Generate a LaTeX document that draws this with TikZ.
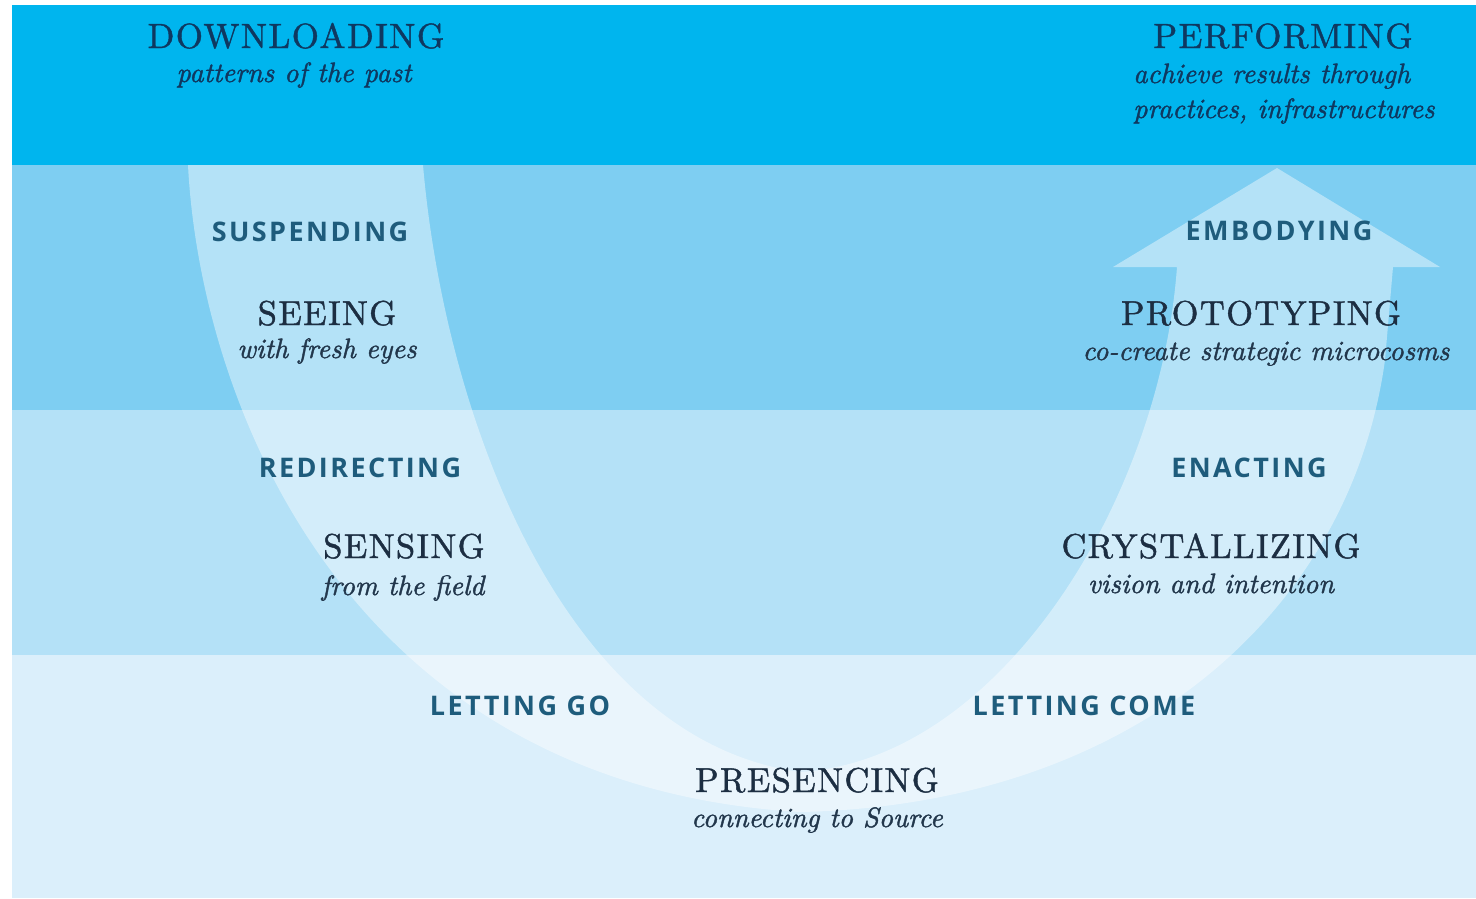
\documentclass[tikz,border=0pt]{standalone}
\usepackage{fontspec}
\newfontfamily\labfont{Open Sans}[LetterSpace=9]
\newfontfamily\headfont{lmroman10-regular.otf}[FakeBold=1.2, LetterSpace=4]
\newfontfamily\subfont{lmroman10-italic.otf}[FakeBold=1.4]
\definecolor{bandA}{HTML}{00B5EE}
\definecolor{bandB}{HTML}{7ECEF2}
\definecolor{bandC}{HTML}{B4E1F7}
\definecolor{bandD}{HTML}{DBEFFB}
\definecolor{headc}{HTML}{1C2E42}
\definecolor{topc}{HTML}{0F3860}
\definecolor{subc}{HTML}{22374C}
\definecolor{actc}{HTML}{1E5C7C}
\tikzset{
  stagename/.style={anchor=base, inner sep=0pt, text=headc, font=\headfont\fontsize{34.5}{40}\selectfont},
  topname/.style={anchor=base, inner sep=0pt, text=topc, font=\headfont\fontsize{35}{40}\selectfont},
  subtext/.style={anchor=base, inner sep=0pt, text=subc, font=\subfont\fontsize{28}{32}\selectfont},
  toptext/.style={anchor=base west, inner sep=0pt, text=topc, font=\subfont\fontsize{28}{32}\selectfont},
  actlabel/.style={anchor=base, inner sep=0pt, text=actc, font=\labfont\bfseries\fontsize{27}{30}\selectfont},
}
\begin{document}
\begin{tikzpicture}[x=1pt,y=-1pt]
\useasboundingbox (0,0) rectangle (1476,898);
\fill[white] (0,0) rectangle (1476,898);
% bands
\fill[bandB] (12,165) rectangle (1476,410);
\fill[bandC] (12,410) rectangle (1476,655);
\fill[bandD] (12,655) rectangle (1476,898);
% U shaped arrow
\fill[white, opacity=0.42]
  (188,165) .. controls (200,400) and (345,785) .. (800,812)
  .. controls (1130,805) and (1350,615) .. (1385,360)
  -- (1393,267) -- (1440,267) -- (1277,168) -- (1113,267) -- (1177,267)
  .. controls (1160,500) and (1000,760) .. (800,772)
  .. controls (565,740) and (445,420) .. (423,165)
  -- cycle;
\fill[bandA] (12,5) rectangle (1476,165);
% top band
\node[topname] (down) at (296,48) {DOWNLOADING};
\node[subtext, text=topc] (downsub) at (294,82) {patterns of the past};
\node[topname] (perf) at (1283,48) {PERFORMING};
\node[toptext] (perfsubA) at (1133,83) {achieve results through};
\node[toptext] (perfsubB) at (1133,118) {practices, infrastructures};
% left arm
\node[actlabel] (susp) at (310,241) {SUSPENDING};
\node[stagename] (seeing) at (327,325) {SEEING};
\node[subtext] (seeingsub) at (327,358) {with fresh eyes};
\node[actlabel] (redir) at (360,477) {REDIRECTING};
\node[stagename] (sensing) at (404,558) {SENSING};
\node[subtext] (sensingsub) at (403,595) {from the field};
\node[actlabel] (letgo) at (520,715) {LETTING GO};
% bottom
\node[stagename] (pres) at (817,792) {PRESENCING};
\node[subtext] (pressub) at (817,827) {connecting to Source};
% right arm
\node[actlabel] (letcome) at (1084,715) {LETTING COME};
\node[stagename] (cryst) at (1211,558) {CRYSTALLIZING};
\node[subtext] (crystsub) at (1211,593) {vision and intention};
\node[actlabel] (enact) at (1249,477) {ENACTING};
\node[stagename] (proto) at (1261,325) {PROTOTYPING};
\node[subtext] (protosub) at (1266,360) {co-create strategic microcosms};
\node[actlabel] (embod) at (1279,240) {EMBODYING};
\end{tikzpicture}
\end{document}
